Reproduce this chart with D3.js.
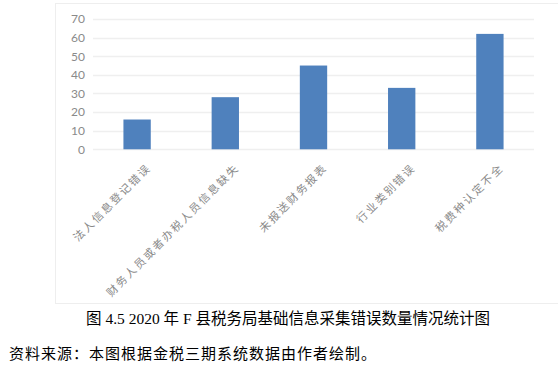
<!DOCTYPE html>
<html><head><meta charset="utf-8">
<script src="https://cdn.jsdelivr.net/npm/d3@7"></script>
<style>body{margin:0;background:#fff}svg{display:block}</style>
</head><body>
<script>
const categories = ["法人信息登记错误","财务人员或者办税人员信息缺失","未报送财务报表","行业类别错误","税费种认定不全"];
const values = [16, 28, 45, 33, 62];
const yTicks = [0,10,20,30,40,50,60,70];
const caption = "图 4.5 2020 年 F 县税务局基础信息采集错误数量情况统计图";
const source = "资料来源：本图根据金税三期系统数据由作者绘制。";

const W = 558, H = 367;
const svg = d3.select("body").append("svg").attr("width", W).attr("height", H);

// chart frame
svg.append("rect").attr("x", 55.5).attr("y", 3.5).attr("width", 510).attr("height", 300)
  .attr("fill", "#fff").attr("stroke", "#eeeeee").attr("stroke-width", 1);

const x = d3.scaleBand().domain(categories).range([93, 534]).paddingInner(0.69).paddingOuter(0.345);
const y = d3.scaleLinear().domain([0, 70]).range([149.3, 19]);

// gridlines
svg.append("g").selectAll("line").data(yTicks).join("line")
  .attr("x1", 93).attr("x2", 534)
  .attr("y1", d => Math.round(y(d)) + 0.5).attr("y2", d => Math.round(y(d)) + 0.5)
  .attr("stroke", "#efefef").attr("stroke-width", 1.5);

// y axis labels
const yAxis = d3.axisLeft(y).tickValues(yTicks).tickSize(0).tickPadding(0);
const gy = svg.append("g").attr("transform", "translate(85,0)").call(yAxis);
gy.select(".domain").remove();
gy.selectAll("text").attr("fill", "#8a8a8a").attr("font-size", "12px")
  .attr("font-family", "Lato, 'Liberation Sans', sans-serif");

// bars
svg.append("g").selectAll("rect").data(values).join("rect")
  .attr("x", (d, i) => x(categories[i]))
  .attr("width", x.bandwidth())
  .attr("y", d => y(d))
  .attr("height", d => y(0) - y(d))
  .attr("fill", "#4f81bd");

// category labels
svg.append("g").selectAll("text").data(categories).join("text")
  .attr("transform", d => `translate(${x(d) + x.bandwidth()/2 + 11},${165}) rotate(-45)`)
  .attr("text-anchor", "end")
  .attr("dominant-baseline", "central")
  .attr("font-size", "11px")
  .attr("letter-spacing", "2px")
  .attr("font-family", "'Noto Sans CJK SC', sans-serif")
  .attr("fill", "#8a8a8a")
  .text(d => d);

// caption
svg.append("text").attr("x", 288).attr("y", 324).attr("text-anchor", "middle")
  .attr("font-size", "15.5px").attr("fill", "#000")
  .attr("font-family", "'Liberation Serif', 'Noto Sans CJK SC', serif")
  .text(caption);

svg.append("text").attr("x", 9).attr("y", 359)
  .attr("font-size", "15px").attr("letter-spacing", "1px").attr("fill", "#000")
  .attr("font-family", "'Noto Sans CJK SC', sans-serif")
  .text(source);
</script>
</body></html>
